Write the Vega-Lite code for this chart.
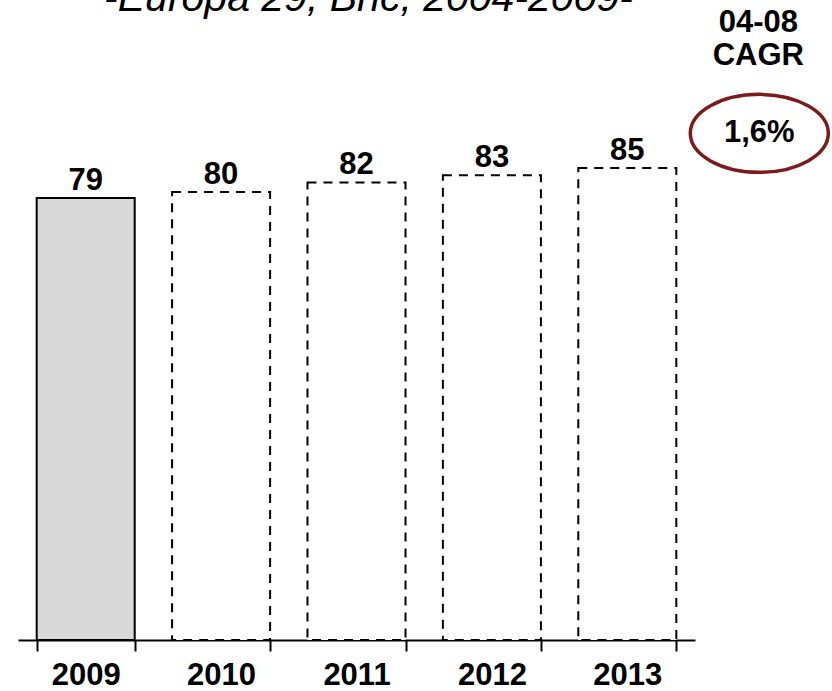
{
  "$schema": "https://vega.github.io/schema/vega-lite/v6.json",
  "width": 677,
  "height": 558,
  "autosize": {"type": "none"},
  "padding": {"left": 18, "top": 82, "right": 137, "bottom": 51},
  "background": "white",
  "config": {"view": {"stroke": null}, "font": "Liberation Sans"},
  "datasets": {
    "bars": [
      {"year": "2009", "value": 79.2, "label": "79", "kind": "actual"},
      {"year": "2010", "value": 80.3, "label": "80", "kind": "forecast"},
      {"year": "2011", "value": 82.0, "label": "82", "kind": "forecast"},
      {"year": "2012", "value": 83.3, "label": "83", "kind": "forecast"},
      {"year": "2013", "value": 84.6, "label": "85", "kind": "forecast"}
    ],
    "notes": [
      {"year": "2011", "v": 112.8, "text": "-Europa 29, Bnc, 2004-2009-", "role": "title"},
      {"year": "2013", "v": 108.9, "text": "04-08", "role": "cagr"},
      {"year": "2013", "v": 103.1, "text": "CAGR", "role": "cagr"},
      {"year": "2013", "v": 89.3, "text": "1,6%", "role": "rate"},
      {"year": "2013", "v": 90.8, "text": "", "role": "ring"}
    ]
  },
  "layer": [
    {
      "data": {"name": "bars"},
      "mark": {"type": "bar", "stroke": "black", "strokeWidth": 2},
      "encoding": {
        "x": {
          "field": "year", "type": "nominal", "sort": null,
          "scale": {"paddingInner": 0.276, "paddingOuter": 0.138},
          "axis": {
            "title": null, "labelAngle": 0,
            "domainColor": "black", "domainWidth": 2,
            "tickColor": "black", "tickWidth": 2, "tickSize": 11,
            "tickBand": "extent",
            "labelFont": "Liberation Sans", "labelFontWeight": "bold",
            "labelFontSize": 31, "labelColor": "black", "labelPadding": 9
          }
        },
        "y": {"field": "value", "type": "quantitative", "scale": {"domain": [0, 100]}, "axis": null},
        "fill": {"condition": {"test": "datum.kind == 'actual'", "value": "#d9d9d9"}, "value": "white"},
        "strokeDash": {"condition": {"test": "datum.kind == 'forecast'", "value": [9, 7]}, "value": [1, 0]}
      }
    },
    {
      "data": {"name": "bars"},
      "mark": {"type": "text", "font": "Liberation Sans", "fontWeight": "bold", "fontSize": 31, "baseline": "alphabetic", "dy": -8, "color": "black"},
      "encoding": {
        "x": {"field": "year", "type": "nominal", "sort": null},
        "y": {"field": "value", "type": "quantitative"},
        "text": {"field": "label"}
      }
    },
    {
      "data": {"name": "notes"},
      "transform": [{"filter": "datum.role == 'title'"}],
      "mark": {"type": "text", "font": "Liberation Sans", "fontStyle": "italic", "fontSize": 41, "baseline": "alphabetic", "dx": 12, "color": "black"},
      "encoding": {
        "x": {"field": "year", "type": "nominal", "sort": null},
        "y": {"field": "v", "type": "quantitative"},
        "text": {"field": "text"}
      }
    },
    {
      "data": {"name": "notes"},
      "transform": [{"filter": "datum.role == 'cagr'"}],
      "mark": {"type": "text", "font": "Liberation Sans", "fontWeight": "bold", "fontSize": 31, "baseline": "alphabetic", "dx": 131, "color": "black"},
      "encoding": {
        "x": {"field": "year", "type": "nominal", "sort": null},
        "y": {"field": "v", "type": "quantitative"},
        "text": {"field": "text"}
      }
    },
    {
      "data": {"name": "notes"},
      "transform": [{"filter": "datum.role == 'ring'"}],
      "mark": {"type": "point", "filled": false, "stroke": "#7f1a1a", "strokeWidth": 3.5, "opacity": 1, "size": 19044, "xOffset": 132,
        "shape": "M-1,0 A1,0.565 0 1,1 1,0 A1,0.565 0 1,1 -1,0 Z"},
      "encoding": {
        "x": {"field": "year", "type": "nominal", "sort": null},
        "y": {"field": "v", "type": "quantitative"}
      }
    },
    {
      "data": {"name": "notes"},
      "transform": [{"filter": "datum.role == 'rate'"}],
      "mark": {"type": "text", "font": "Liberation Sans", "fontWeight": "bold", "fontSize": 31, "baseline": "alphabetic", "dx": 132, "color": "black"},
      "encoding": {
        "x": {"field": "year", "type": "nominal", "sort": null},
        "y": {"field": "v", "type": "quantitative"},
        "text": {"field": "text"}
      }
    }
  ]
}
